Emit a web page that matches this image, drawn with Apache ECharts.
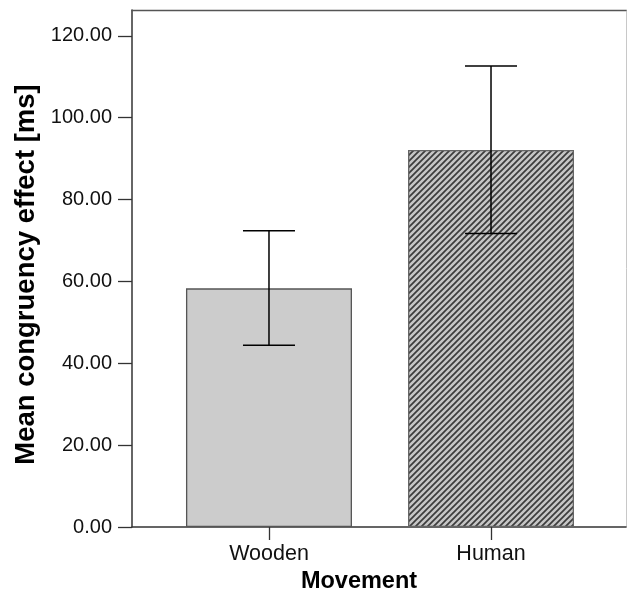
<!doctype html>
<html>
<head>
<meta charset="utf-8">
<title>Mean congruency effect</title>
<script src="https://cdn.jsdelivr.net/npm/echarts@6/dist/echarts.min.js"></script>
<style>
html,body{margin:0;padding:0;background:#fff;}
#chart{width:627px;height:595px;}
</style>
</head>
<body>
<div id="chart"></div>
<script type="text/javascript">
// data
var categories = ['Wooden', 'Human'];
var means = [58.3, 92.1];
var ciLow = [44.4, 71.7];
var ciHigh = [72.4, 112.6];
var yTicks = [0, 20, 40, 60, 80, 100, 120];

// diagonal hatch for the second bar
function makeHatch(){
	var c = document.createElement('canvas');
	c.width = 6; c.height = 6;
	var ctx = c.getContext('2d');
	ctx.fillStyle = '#c6c6c6';
	ctx.fillRect(0, 0, 6, 6);
	ctx.strokeStyle = '#3c3c3c';
	ctx.lineWidth = 1.7;
	ctx.beginPath();
	ctx.moveTo(-1, 7); ctx.lineTo(7, -1);
	ctx.moveTo(-4, 4); ctx.lineTo(4, -4);
	ctx.moveTo(2, 10); ctx.lineTo(10, 2);
	ctx.stroke();
	return c;
}

var barStyles = [
	{color: '#cccccc', borderColor: '#555555', borderWidth: 1.3},
	{color: {image: makeHatch(), repeat: 'repeat'}, borderColor: '#666666', borderWidth: 1.3}
];

var barData = [];
var errData = [];
for (var i = 0; i < categories.length; i++) {
	barData.push({value: [i, means[i]], itemStyle: barStyles[i]});
	errData.push([i, ciLow[i], ciHigh[i]]);
}

var font = '"Liberation Sans", Arial, sans-serif';
var chart = echarts.init(document.getElementById('chart'));
var option = {
	animation: false,
	grid: {left: 132, right: 1, top: 10, bottom: 68, show: false, containLabel: false, outerBoundsMode: 'none'},
	xAxis: [{
		type: 'value',
		min: -0.617,
		max: 1.608,
		name: 'Movement',
		nameLocation: 'middle',
		nameGap: 36,
		nameTextStyle: {fontFamily: font, fontWeight: 'bold', fontSize: 23.5, color: '#000', padding: [0, 40, 0, 0]},
		axisLine: {onZero: false, lineStyle: {color: '#333', width: 1.5}},
		axisTick: {show: true, length: 13, customValues: [0, 1], lineStyle: {color: '#333', width: 1.3}},
		axisLabel: {customValues: [0, 1], margin: 16, fontFamily: font, fontSize: 21.5, color: '#111',
			formatter: function(v){ return categories[Math.round(v)]; }},
		splitLine: {show: false}
	}, {
		type: 'value', position: 'top', min: -0.617, max: 1.608,
		axisLine: {show: true, onZero: false, lineStyle: {color: '#555', width: 1.3}},
		axisTick: {show: false}, axisLabel: {show: false}, splitLine: {show: false}
	}],
	yAxis: [{
		type: 'value',
		min: 0,
		max: 126.3,
		name: 'Mean congruency effect [ms]',
		nameLocation: 'middle',
		nameGap: 88,
		nameRotate: 90,
		nameTextStyle: {fontFamily: font, fontWeight: 'bold', fontSize: 27.5, color: '#000', padding: [0, 12, 0, 0]},
		axisLine: {show: true, onZero: false, lineStyle: {color: '#333', width: 1.5}},
		axisTick: {show: true, length: 14, customValues: yTicks, lineStyle: {color: '#333', width: 1.3}},
		axisLabel: {customValues: yTicks, margin: 20, fontFamily: font, fontSize: 20, color: '#111',
			formatter: function(v){ return v.toFixed(2); }},
		splitLine: {show: false}
	}, {
		type: 'value', position: 'right', min: 0, max: 126.3,
		axisLine: {show: true, onZero: false, lineStyle: {color: '#c8c8c8', width: 1}},
		axisTick: {show: false}, axisLabel: {show: false}, splitLine: {show: false}
	}],
	series: [{
		type: 'bar',
		barWidth: 166,
		data: barData
	}, {
		type: 'custom',
		data: errData,
		z: 5,
		renderItem: function(params, api){
			var lo = api.coord([api.value(0), api.value(1)]);
			var hi = api.coord([api.value(0), api.value(2)]);
			var half = 26;
			var st = {stroke: '#000', lineWidth: 1.5};
			return {type: 'group', children: [
				{type: 'line', shape: {x1: hi[0], y1: hi[1], x2: lo[0], y2: lo[1]}, style: st},
				{type: 'line', shape: {x1: hi[0]-half, y1: hi[1], x2: hi[0]+half, y2: hi[1]}, style: st},
				{type: 'line', shape: {x1: lo[0]-half, y1: lo[1], x2: lo[0]+half, y2: lo[1]}, style: st}
			]};
		}
	}]
};
chart.setOption(option);
</script>
</body>
</html>
